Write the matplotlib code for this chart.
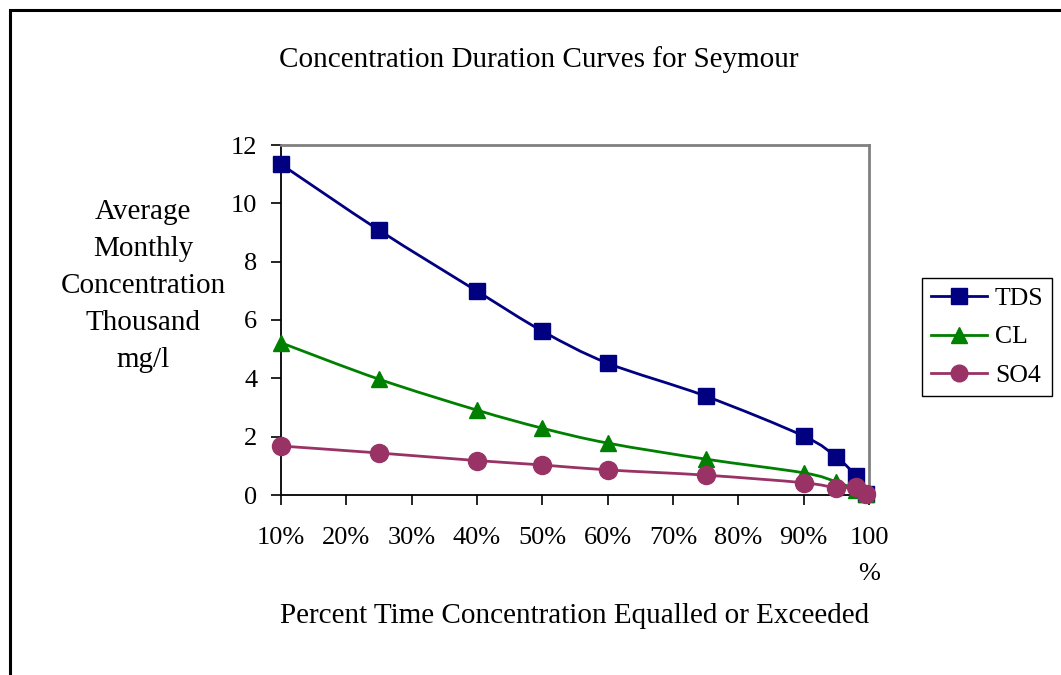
import matplotlib
matplotlib.use("Agg")
import matplotlib.pyplot as plt
import numpy as np
from matplotlib.path import Path
from matplotlib.patches import PathPatch, Rectangle
from matplotlib.lines import Line2D

plt.rcParams['font.family'] = ['Liberation Serif', 'DejaVu Serif']

# Data (thousand mg/l) vs percent time equalled or exceeded
pct = [10, 25, 40, 50, 60, 75, 90, 95, 98, 99.5]
tds = [11.34, 9.08, 6.99, 5.62, 4.52, 3.39, 2.02, 1.30, 0.65, 0.05]
cl = [5.22, 3.97, 2.91, 2.29, 1.78, 1.23, 0.76, 0.45, 0.18, 0.03]
so4 = [1.68, 1.44, 1.18, 1.03, 0.86, 0.68, 0.42, 0.25, 0.26, 0.05]
series_names = ["TDS", "CL", "SO4"]
colors = ["#000080", "#008000", "#993366"]
markers = ["s", "^", "o"]
msizes = [12, 12, 13]
xticks = [10, 20, 30, 40, 50, 60, 70, 80, 90, 100]
xticklabels = ["10%", "20%", "30%", "40%", "50%", "60%", "70%", "80%", "90%", "100\n%"]
yticks = [0, 2, 4, 6, 8, 10, 12]

W, H = 1061, 675
fig = plt.figure(figsize=(W / 100, H / 100), dpi=100)
fig.patch.set_facecolor("white")

# outer border
fig.patches.append(Rectangle((10 / W, -0.1), 1.2, 1 - 10 / H + 0.1, transform=fig.transFigure,
                             fill=False, edgecolor="black", linewidth=2.2))

ax = fig.add_axes([281 / W, 1 - 495 / H, (869 - 281) / W, (495 - 145) / H])
ax.set_xlim(10, 100)
ax.set_ylim(0, 12)


def smooth_path(x, y):
    p = np.column_stack([x, y]).astype(float)
    n = len(p)
    verts = [p[0]]
    codes = [Path.MOVETO]
    for i in range(n - 1):
        pm = p[i - 1] if i > 0 else p[i]
        pp = p[i + 2] if i + 2 < n else p[i + 1]
        c1 = p[i] + (p[i + 1] - pm) / 6.0
        c2 = p[i + 1] - (pp - p[i]) / 6.0
        verts += [c1, c2, p[i + 1]]
        codes += [Path.CURVE4] * 3
    return Path(verts, codes)


handles = []
for name, vals, c, m, ms in zip(series_names, [tds, cl, so4], colors, markers, msizes):
    patch = PathPatch(smooth_path(pct, vals), facecolor="none", edgecolor=c, lw=2.0,
                      clip_on=False, zorder=3)
    ax.add_patch(patch)
    ax.plot(pct, vals, linestyle="none", marker=m, markersize=ms, color=c,
            markeredgecolor=c, clip_on=False, zorder=4)
    handles.append(Line2D([], [], color=c, lw=2.0, marker=m, markersize=ms - 1,
                          markeredgecolor=c))

for s in ["top", "right"]:
    ax.spines[s].set_color("#808080")
    ax.spines[s].set_linewidth(2)
for s in ["left", "bottom"]:
    ax.spines[s].set_color("black")
    ax.spines[s].set_linewidth(1.3)

ax.set_xticks(xticks)
ax.set_xticklabels(xticklabels, fontsize=19, linespacing=1.85, va="top")
ax.set_yticks(yticks)
ax.set_yticklabels([str(v) for v in yticks], fontsize=19)
ax.tick_params(axis="both", direction="out", length=7, width=1.2, color="black")
ax.tick_params(axis="x", pad=16)
ax.tick_params(axis="y", pad=10)

fig.text(539 / W, 1 - 60 / H, "Concentration Duration Curves for Seymour",
         ha="center", va="center", fontsize=21)
fig.text(143 / W, 1 - 286 / H, "Average\nMonthly\nConcentration\nThousand\nmg/l",
         ha="center", va="center", fontsize=21, linespacing=1.55)
fig.text(575 / W, 1 - 616 / H, "Percent Time Concentration Equalled or Exceeded",
         ha="center", va="center", fontsize=21)

leg = fig.legend(handles=handles, labels=series_names, loc="center",
                 bbox_to_anchor=(987 / W, 1 - 337 / H), fontsize=18.5,
                 frameon=True, fancybox=False, edgecolor="black", framealpha=1,
                 handlelength=2.2, handletextpad=0.3, labelspacing=0.6,
                 borderpad=0.35, borderaxespad=0)
leg.get_frame().set_linewidth(1.0)

fig.savefig("out.png", dpi=100, facecolor="white")
